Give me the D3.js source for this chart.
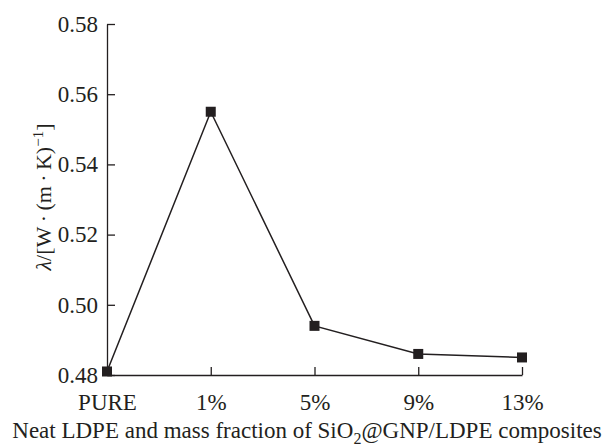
<!DOCTYPE html>
<html>
<head>
<meta charset="utf-8">
<script src="https://cdn.jsdelivr.net/npm/d3@7"></script>
<style>
  body { margin: 0; background: #fff; }
  text { font-family: "Liberation Serif", "Times New Roman", serif; fill: #231f20; }
</style>
</head>
<body>
<div id="chart"></div>
<script>
'use strict';

// chart data
const categories = ['PURE', '1%', '5%', '9%', '13%'];
const conductivity = [0.481, 0.555, 0.494, 0.486, 0.485];
const yTicks = [0.48, 0.50, 0.52, 0.54, 0.56, 0.58];

(function() {
  const width = 614, height = 446;
  const svg = d3.select('#chart').append('svg')
    .attr('width', width)
    .attr('height', height);

  // scales
  const xScale = d3.scalePoint()
    .domain(categories)
    .range([107, 522]);

  const yScale = d3.scaleLinear()
    .domain([0.48, 0.58])
    .range([375, 24]);

  const ink = '#231f20';
  const serif = '"Liberation Serif", "Times New Roman", serif';

  // x axis at bottom, ticks point inward
  const xAxis = d3.axisBottom(xScale).tickSizeInner(-8).tickSizeOuter(0);
  const gx = svg.append('g')
    .attr('transform', 'translate(0,375)')
    .call(xAxis);
  gx.attr('font-family', serif);
  gx.select('.domain').attr('stroke', ink).attr('stroke-width', 1.3);
  gx.selectAll('.tick line').attr('stroke', ink).attr('stroke-width', 1.3);
  gx.selectAll('.tick text')
    .attr('y', 35)
    .attr('dy', 0)
    .style('font-size', '23px')
    .style('font-family', serif)
    .attr('fill', ink);

  // y axis on left
  const yAxis = d3.axisLeft(yScale).tickValues(yTicks).tickFormat(d3.format('.2f'))
    .tickSizeInner(-8).tickSizeOuter(0);
  const gy = svg.append('g')
    .attr('transform', 'translate(107,0)')
    .call(yAxis);
  gy.attr('font-family', serif);
  gy.select('.domain').attr('stroke', ink).attr('stroke-width', 1.3);
  gy.selectAll('.tick line').attr('stroke', ink).attr('stroke-width', 1.3);
  gy.selectAll('.tick text')
    .attr('x', -9)
    .style('font-size', '23px')
    .style('font-family', serif)
    .attr('fill', ink);

  // line
  const points = categories.map((c, i) => ({ cat: c, val: conductivity[i] }));
  const line = d3.line()
    .x(d => xScale(d.cat))
    .y(d => yScale(d.val));

  svg.append('path')
    .datum(points)
    .attr('d', line)
    .attr('fill', 'none')
    .attr('stroke', ink)
    .attr('stroke-width', 1.5);

  // square markers
  const s = 10;
  svg.selectAll('.marker')
    .data(points)
    .enter()
    .append('rect')
      .attr('class', 'marker')
      .attr('x', d => xScale(d.cat) - s / 2)
      .attr('y', d => yScale(d.val) - s / 2)
      .attr('width', s)
      .attr('height', s)
      .attr('fill', ink);

  // x title
  const xt = svg.append('text')
    .attr('x', 307)
    .attr('y', 438)
    .attr('text-anchor', 'middle')
    .style('font-size', '23px');
  xt.append('tspan').text('Neat LDPE and mass fraction of SiO');
  xt.append('tspan').attr('dy', 6).style('font-size', '16px').text('2');
  xt.append('tspan').attr('dy', -6).text('@GNP/LDPE composites');

  // y title
  const yt = svg.append('text')
    .attr('transform', 'translate(51,197) rotate(-90)')
    .attr('text-anchor', 'middle')
    .style('font-size', '22px');
  yt.append('tspan').style('font-style', 'italic').text('λ');
  yt.append('tspan').text('/[W\u2009·\u2009(m\u2009·\u2009K)');
  yt.append('tspan').attr('dy', -8).style('font-size', '15px').text('−1');
  yt.append('tspan').attr('dy', 8).text(']');
})();
</script>
</body>
</html>
